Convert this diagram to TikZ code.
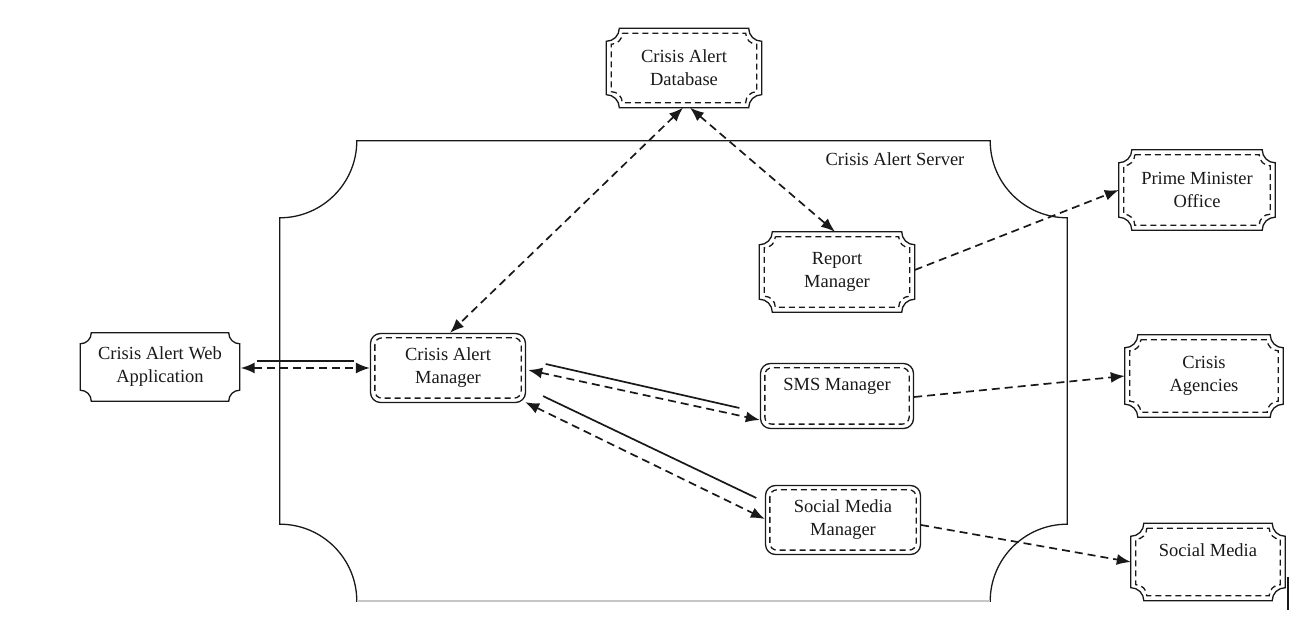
\documentclass[tikz,border=0pt]{standalone}
\usepackage{fontspec}
\setmainfont{Liberation Serif}
\usetikzlibrary{arrows.meta,calc}
\definecolor{ink}{RGB}{25,25,25}
\newcommand\notchline[4]{% node, inset, radius, style
  \draw[#4] ([shift={(#2pt+#3pt,-#2pt)}]#1.north west)
    -- ([shift={(-#2pt-#3pt,-#2pt)}]#1.north east)
    arc[start angle=180,end angle=270,radius=#3pt]
    -- ([shift={(-#2pt,#2pt+#3pt)}]#1.south east)
    arc[start angle=90,end angle=180,radius=#3pt]
    -- ([shift={(#2pt+#3pt,#2pt)}]#1.south west)
    arc[start angle=0,end angle=90,radius=#3pt]
    -- ([shift={(#2pt,-#2pt-#3pt)}]#1.north west)
    arc[start angle=270,end angle=360,radius=#3pt] -- cycle;}
\newcommand\roundinner[1]{%
  \draw[innerdash, rounded corners=7pt] ([shift={(5pt,-5pt)}]#1.north west) rectangle ([shift={(-5pt,5pt)}]#1.south east);}
\tikzset{
  box/.style={minimum width=155pt, minimum height=80pt, inner sep=0pt, align=center,
    text=ink, font=\fontsize{18.5}{23}\selectfont},
  rbox/.style={box, draw=ink, rounded corners=10pt, line width=1.3pt},
  outline/.style={draw=ink, line width=1.3pt},
  innerdash/.style={draw=ink, line width=1.3pt, dash pattern=on 6pt off 4pt},
  con/.style={draw=ink, line width=1.7pt},
  dcon/.style={con, dash pattern=on 8pt off 5pt},
  both/.style={{Latex[length=14pt,width=11pt]}-{Latex[length=14pt,width=11pt]}},
  fwd/.style={-{Latex[length=14pt,width=11pt]}},
}
\begin{document}
\begin{tikzpicture}[x=1pt,y=1pt]
\useasboundingbox (0,0) rectangle (1290,620);
% server container
\node[minimum width=787pt, minimum height=460pt, inner sep=0pt] (server) at (673.5,249) {};
\notchline{server}{0}{77}{outline}
\draw[gray!45, line width=1.5pt] ([xshift=77pt]server.south west) -- ([xshift=-77pt]server.south east);
\node[box, minimum width=0pt, minimum height=0pt, anchor=center] (serverlabel) at (895,461) {Crisis Alert Server};

% external notched nodes
\node[box, minimum height=79pt] (db) at (684,552) {Crisis Alert\\Database};
\notchline{db}{0}{13}{outline}\notchline{db}{5}{11}{innerdash}

\node[box, minimum width=159pt, minimum height=68pt] (web) at (160,253) {Crisis Alert Web\\Application};
\notchline{web}{0}{11}{outline}

\node[box, minimum width=156pt] (pmo) at (1197,430) {Prime Minister\\Office};
\notchline{pmo}{0}{13}{outline}\notchline{pmo}{5}{11}{innerdash}

\node[box, minimum width=158pt, minimum height=82pt] (ag) at (1204,244) {Crisis\\Agencies};
\notchline{ag}{0}{13}{outline}\notchline{ag}{5}{11}{innerdash}

\node[box, minimum width=154pt, minimum height=77pt] (sm) at (1208,58) {Social Media\\\mbox{}};
\notchline{sm}{0}{13}{outline}\notchline{sm}{5}{11}{innerdash}

\node[box] (rep) at (837,348) {Report\\Manager};
\notchline{rep}{0}{13}{outline}\notchline{rep}{5}{11}{innerdash}

% rounded internal nodes
\node[rbox, minimum height=69pt] (cam) at (448,252) {Crisis Alert\\Manager};
\roundinner{cam}
\node[rbox, minimum width=153pt, minimum height=65pt] (sms) at (837,224) {SMS Manager\\\mbox{}};
\roundinner{sms}
\node[rbox, minimum height=69pt] (smm) at (843,100) {Social Media\\Manager};
\roundinner{smm}

% connectors
\draw[con] ([shift={(17pt,6pt)}]web.east) -- ([shift={(-16pt,7pt)}]cam.west);
\draw[dcon, both] ([shift={(1pt,-1pt)}]web.east) -- (cam.west);

\draw[dcon, both] ([xshift=-1pt]db.south) -- ([xshift=2pt]cam.north);
\draw[dcon, both] ([xshift=6pt]db.south) -- ([xshift=-2pt]rep.north);
\draw[dcon, fwd] ([yshift=2pt]rep.east) -- (pmo.west);

\draw[con] ([shift={(19.5pt,4pt)}]cam.east) -- ([shift={(-20.5pt,-12pt)}]sms.west);
\draw[dcon, both] ([shift={(2pt,-2pt)}]cam.east) -- ([yshift=-24pt]sms.west);

\draw[con] ([shift={(17pt,7pt)}]cam.south east) -- ([shift={(-8.5pt,22pt)}]smm.west);
\draw[dcon, both] ([shift={(-1pt,1pt)}]cam.south east) -- ([yshift=1pt]smm.west);

\draw[dcon, fwd] ([yshift=-1pt]sms.east) -- (ag.west);
\draw[dcon, fwd] ([yshift=-5pt]smm.east) -- (sm.west);

% edge mark at bottom right
\coordinate (ma) at (1288,43);
\coordinate (mb) at (1288,10);
\draw[draw=ink, line width=1.2pt] (ma) -- (mb);
\end{tikzpicture}
\end{document}
